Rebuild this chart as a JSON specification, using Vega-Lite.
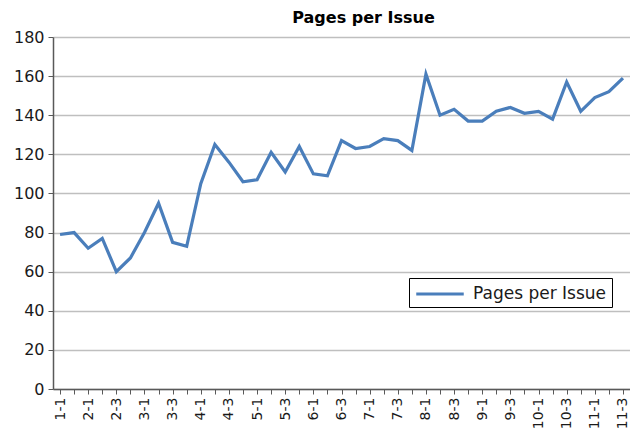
{
  "$schema": "https://vega.github.io/schema/vega-lite/v6.json",
  "width": 577,
  "height": 352,
  "autosize": {"type": "none"},
  "padding": {"left": 53, "top": 37, "right": 0, "bottom": 41},
  "background": "white",
  "title": {
    "text": "Pages per Issue",
    "font": "DejaVu Sans",
    "fontSize": 16,
    "fontWeight": "bold",
    "color": "#000000",
    "anchor": "middle",
    "dx": 22,
    "offset": 3
  },
  "config": {
    "view": {"stroke": null},
    "font": "DejaVu Sans"
  },
  "data": {
    "values": [
      {"issue": "1-1", "pages": 79},
      {"issue": "1-2", "pages": 80},
      {"issue": "2-1", "pages": 72},
      {"issue": "2-2", "pages": 77},
      {"issue": "2-3", "pages": 60},
      {"issue": "2-4", "pages": 67},
      {"issue": "3-1", "pages": 80},
      {"issue": "3-2", "pages": 95},
      {"issue": "3-3", "pages": 75},
      {"issue": "3-4", "pages": 73},
      {"issue": "4-1", "pages": 105},
      {"issue": "4-2", "pages": 125},
      {"issue": "4-3", "pages": 116},
      {"issue": "4-4", "pages": 106},
      {"issue": "5-1", "pages": 107},
      {"issue": "5-2", "pages": 121},
      {"issue": "5-3", "pages": 111},
      {"issue": "5-4", "pages": 124},
      {"issue": "6-1", "pages": 110},
      {"issue": "6-2", "pages": 109},
      {"issue": "6-3", "pages": 127},
      {"issue": "6-4", "pages": 123},
      {"issue": "7-1", "pages": 124},
      {"issue": "7-2", "pages": 128},
      {"issue": "7-3", "pages": 127},
      {"issue": "7-4", "pages": 122},
      {"issue": "8-1", "pages": 161},
      {"issue": "8-2", "pages": 140},
      {"issue": "8-3", "pages": 143},
      {"issue": "8-4", "pages": 137},
      {"issue": "9-1", "pages": 137},
      {"issue": "9-2", "pages": 142},
      {"issue": "9-3", "pages": 144},
      {"issue": "9-4", "pages": 141},
      {"issue": "10-1", "pages": 142},
      {"issue": "10-2", "pages": 138},
      {"issue": "10-3", "pages": 157},
      {"issue": "10-4", "pages": 142},
      {"issue": "11-1", "pages": 149},
      {"issue": "11-2", "pages": 152},
      {"issue": "11-3", "pages": 159}
    ]
  },
  "mark": {"type": "line", "strokeWidth": 3.2, "strokeJoin": "miter"},
  "encoding": {
    "x": {
      "field": "issue",
      "type": "ordinal",
      "sort": null,
      "scale": {"type": "point", "padding": 0.5},
      "axis": {
        "title": null,
        "labelAngle": -90,
        "labelFontSize": 14,
        "labelColor": "#1a1a1a",
        "labelPadding": 3,
        "labelOverlap": false,
        "labelExpr": "indexof(['1-1','2-1','2-3','3-1','3-3','4-1','4-3','5-1','5-3','6-1','6-3','7-1','7-3','8-1','8-3','9-1','9-3','10-1','10-3','11-1','11-3'], datum.value) >= 0 ? datum.value : ''",
        "domainColor": "#595959",
        "domainWidth": 1.5,
        "tickColor": "#595959",
        "tickSize": 5,
        "grid": false
      }
    },
    "y": {
      "field": "pages",
      "type": "quantitative",
      "scale": {"domain": [0, 180], "nice": false},
      "axis": {
        "title": null,
        "values": [0, 20, 40, 60, 80, 100, 120, 140, 160, 180],
        "labelFontSize": 16,
        "labelColor": "#1a1a1a",
        "labelPadding": 4,
        "domainColor": "#595959",
        "domainWidth": 1.5,
        "tickColor": "#595959",
        "tickSize": 5,
        "grid": true,
        "gridColor": "#bfbfbf",
        "gridWidth": 1.5
      }
    },
    "color": {
      "datum": "Pages per Issue",
      "type": "nominal",
      "scale": {"range": ["#4a7ebb"]},
      "legend": {
        "title": null,
        "orient": "none",
        "legendX": 356,
        "legendY": 241,
        "symbolType": "M-2.5,0H2.5",
        "symbolSize": 361,
        "symbolStrokeWidth": 3,
        "symbolOffset": 15,
        "labelFontSize": 17,
        "labelColor": "#1a1a1a",
        "labelOffset": 22,
        "strokeColor": "#000000",
        "padding": 5,
        "fillColor": "white"
      }
    }
  }
}
